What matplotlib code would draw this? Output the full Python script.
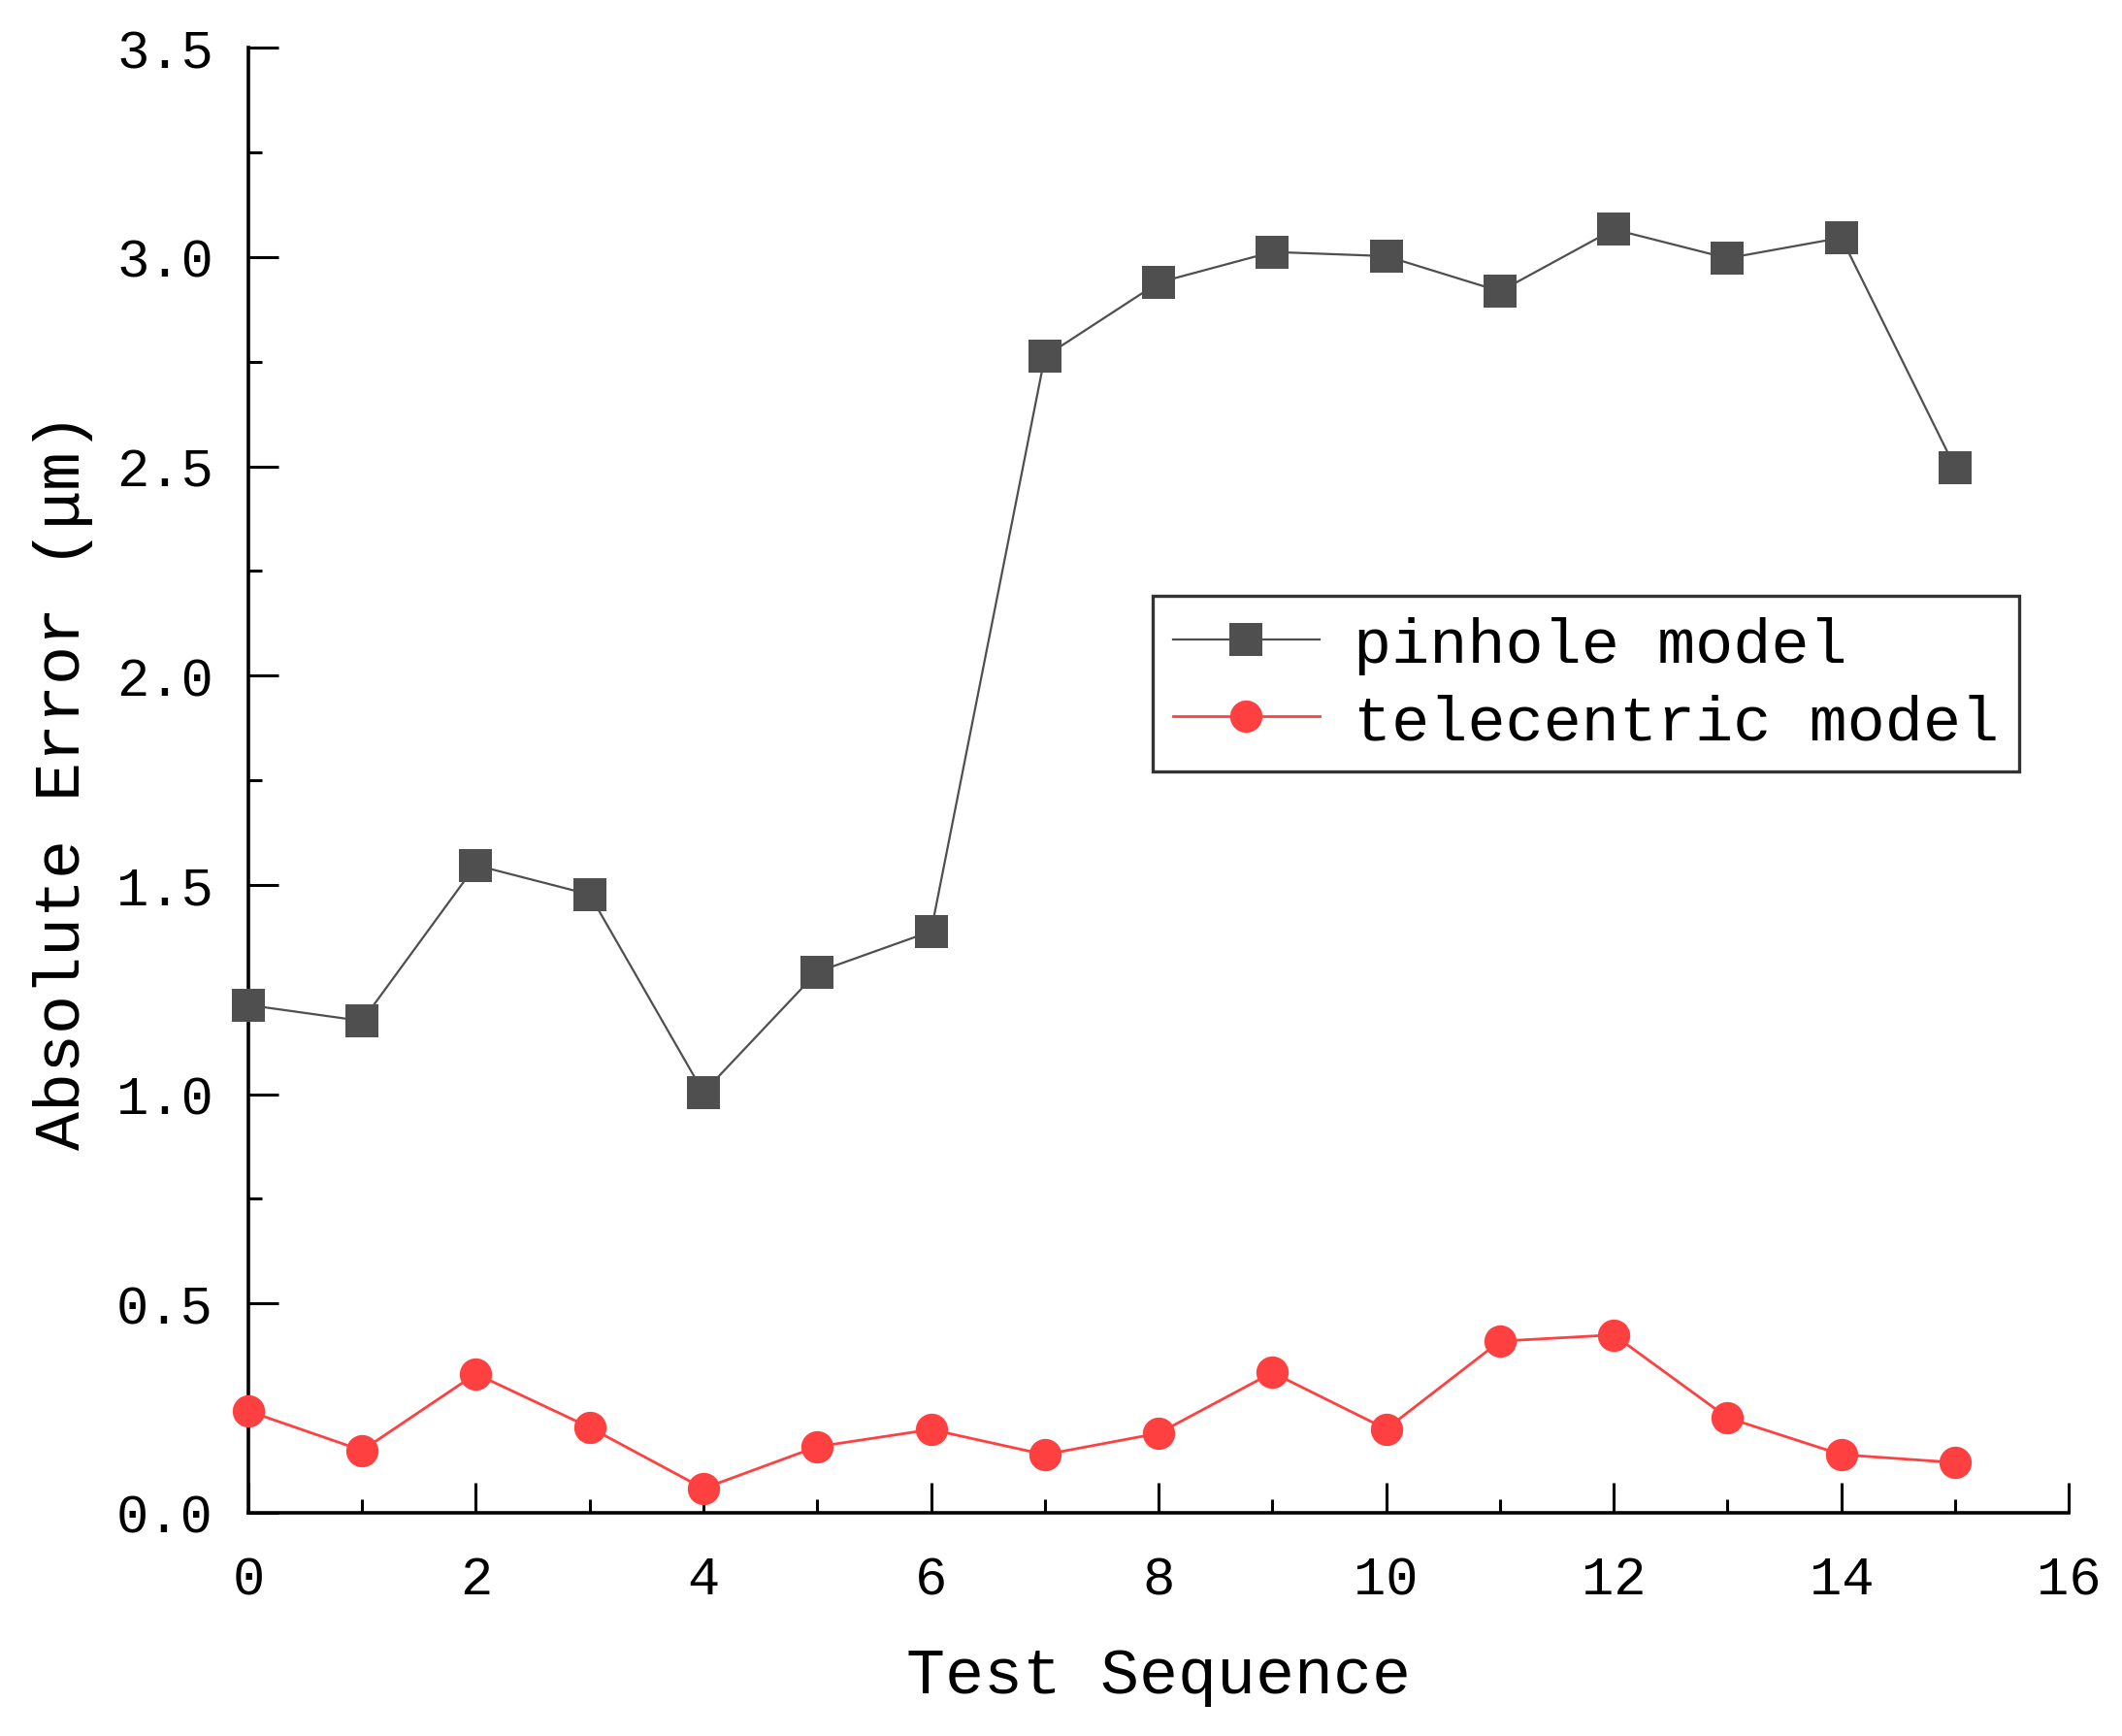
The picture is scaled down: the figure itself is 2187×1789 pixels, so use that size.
import matplotlib
matplotlib.use("Agg")
import matplotlib.pyplot as plt
from matplotlib.ticker import MultipleLocator, FormatStrFormatter

# ---- data ----
test_sequence = list(range(16))
pinhole_model = [1.213, 1.175, 1.547, 1.477, 1.004, 1.292, 1.389, 2.762,
                 2.939, 3.012, 3.002, 2.918, 3.066, 2.997, 3.046, 2.497]
telecentric_model = [0.243, 0.149, 0.332, 0.204, 0.058, 0.158, 0.199, 0.139,
                     0.190, 0.335, 0.200, 0.410, 0.425, 0.227, 0.139, 0.120]
series_labels = ["pinhole model", "telecentric model"]
x_label = "Test Sequence"
y_label = "Absolute Error (μm)"

plt.rcParams['font.family'] = ['Liberation Mono', 'DejaVu Sans']

fig = plt.figure(figsize=(21.87, 17.90), dpi=100)
ax = fig.add_axes([0.117, 0.1285, 0.858, 0.8435])

ax.plot(test_sequence, pinhole_model, color='#4f4f4f', lw=1.6,
        marker='s', markersize=24, markeredgewidth=0,
        label=series_labels[0], clip_on=False, zorder=3)
ax.plot(test_sequence, telecentric_model, color='#ff4040', lw=2.0,
        marker='o', markersize=24, markeredgewidth=0,
        label=series_labels[1], clip_on=False, zorder=3)

ax.set_xlim(0, 16)
ax.set_ylim(0, 3.5)
ax.xaxis.set_major_locator(MultipleLocator(2))
ax.xaxis.set_minor_locator(MultipleLocator(1))
ax.yaxis.set_major_locator(MultipleLocator(0.5))
ax.yaxis.set_minor_locator(MultipleLocator(0.25))
ax.yaxis.set_major_formatter(FormatStrFormatter('%.1f'))

for s in ['top', 'right']:
    ax.spines[s].set_visible(False)
for s in ['left', 'bottom']:
    ax.spines[s].set_linewidth(2.6)
    ax.spines[s].set_color('black')

ax.tick_params(which='major', direction='in', length=22, width=2.2,
               labelsize=40, colors='black')
ax.tick_params(which='minor', direction='in', length=10, width=2.2)
ax.tick_params(axis='x', which='major', pad=31)
ax.tick_params(axis='y', which='major', pad=26)

ax.set_xlabel(x_label, fontsize=48, labelpad=30)
ax.set_ylabel(y_label, fontsize=48, labelpad=17)

leg = ax.legend(loc='upper left', bbox_to_anchor=(0.497, 0.626),
                borderaxespad=0, fontsize=47, frameon=True, fancybox=False,
                edgecolor='black', handlelength=2.3, handletextpad=0.55,
                labelspacing=0.3, borderpad=0.32)
leg.get_frame().set_linewidth(2.4)

fig.savefig("out.png", dpi=100, facecolor='white')
